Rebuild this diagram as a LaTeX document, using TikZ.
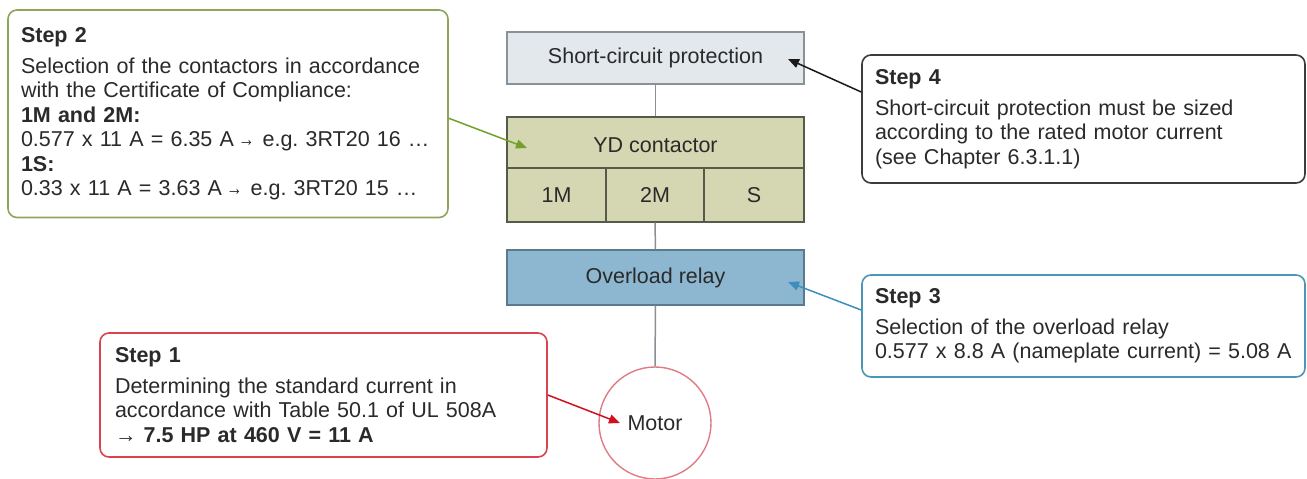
\documentclass[tikz,border=0pt]{standalone}
\usepackage{fontspec}
\usepackage{graphicx}
\setmainfont{Liberation Sans}
\usetikzlibrary{arrows.meta}
\frenchspacing
\newcommand{\smallarr}{\hspace{4.5pt}\scalebox{0.75}[1]{→}\hspace{8pt}}
\definecolor{txt}{HTML}{2A2A2A}
\definecolor{sgreen}{HTML}{8FA55C}
\definecolor{agreen}{HTML}{72A02A}
\definecolor{scpfill}{HTML}{E3E8ED}
\definecolor{scpdraw}{HTML}{8A9299}
\definecolor{ydfill}{HTML}{D4D7B1}
\definecolor{yddraw}{HTML}{555A4A}
\definecolor{olfill}{HTML}{8DB6D1}
\definecolor{oldraw}{HTML}{5A7A90}
\definecolor{sdark}{HTML}{3C3C3C}
\definecolor{adark}{HTML}{1A1A1A}
\definecolor{sblue}{HTML}{4D95B5}
\definecolor{ablue}{HTML}{3D8DBD}
\definecolor{sred}{HTML}{D8434F}
\definecolor{ared}{HTML}{D0101E}
\definecolor{mred}{HTML}{E07A85}
\definecolor{linkgray}{HTML}{8A8F94}
\begin{document}
\begin{tikzpicture}[x=1pt,y=-1pt,
  font=\fontsize{21.5}{24.5}\selectfont\frenchspacing, text=txt,
  stepbox/.style={draw, line width=1.6pt, rounded corners=9pt, fill=white,
    align=left, inner xsep=13pt, inner ysep=0pt},
  block/.style={draw, line width=1.2pt, inner sep=0pt},
  arr/.style={line width=1.5pt, -{Triangle[length=11pt,width=9pt]}},
  link/.style={draw=linkgray, line width=1.5pt}]
\useasboundingbox (0,0) rectangle (1307,479);

% central column
\node[block, draw=scpdraw, fill=scpfill, minimum width=297pt, minimum height=52pt]
  (scp) at (655.5,58) {Short-circuit protection};
\node[block, draw=yddraw, fill=ydfill, minimum width=297pt, minimum height=51pt]
  (yd) at (655.5,142.5) {};
\node at (655.5,145) (ydt) {YD contactor};
\node[block, draw=yddraw, fill=ydfill, minimum width=99pt, minimum height=54pt]
  (m1) at (556.5,195) {1M};
\node[block, draw=yddraw, fill=ydfill, minimum width=98pt, minimum height=54pt]
  (m2) at (655,195) {2M};
\node[block, draw=yddraw, fill=ydfill, minimum width=100pt, minimum height=54pt]
  (ms) at (754,195) {S};
\node[block, draw=oldraw, fill=olfill, minimum width=297pt, minimum height=55pt]
  (ol) at (655.5,277.5) {Overload relay};
\node[circle, draw=mred, line width=1.4pt, minimum size=112pt, inner sep=0pt]
  (motor) at (655,423) {Motor};

\draw[link] (scp.south) -- (yd.north);
\draw[link] (m2.south) -- (ol.north);
\draw[link] (ol.south) -- (motor.north);

% step boxes
\node[stepbox, draw=sgreen, text width=414pt, minimum height=207.5pt]
  (s2) at (228,113.75) {\textbf{Step 2}\\[6pt]
  \mbox{Selection of the contactors in accordance}\\
  \mbox{with the Certificate of Compliance:}\\
  \textbf{1M and 2M:}\\
  \mbox{0.577 x 11 A = 6.35 A\smallarr e.g. 3RT20 16 …}\\
  \textbf{1S:}\\
  \mbox{0.33 x 11 A = 3.63 A\smallarr e.g. 3RT20 15 …}};
\node[stepbox, draw=sdark, text width=417pt, minimum height=128pt]
  (s4) at (1083.5,119) {\textbf{Step 4}\\[6pt]
  \mbox{Short-circuit protection must be sized}\\
  \mbox{according to the rated motor current}\\
  \mbox{(see Chapter 6.3.1.1)}};
\node[stepbox, draw=sblue, text width=417pt, minimum height=102pt]
  (s3) at (1083.5,326) {\textbf{Step 3}\\[6pt]
  \mbox{Selection of the overload relay}\\
  \mbox{0.577 x 8.8 A (nameplate current) = 5.08 A}};
\node[stepbox, draw=sred, inner xsep=15pt, text width=417pt, minimum height=124pt]
  (s1) at (323.5,395) {\textbf{Step 1}\\[6pt]
  \mbox{Determining the standard current in}\\
  \mbox{accordance with Table 50.1 of UL 508A}\\
  \mbox{→ \textbf{7.5 HP at 460 V = 11 A}}};

% arrow targets
\coordinate (t2) at (527,148);
\coordinate (t4) at (788,59);
\coordinate (t3) at (788,282);
\coordinate (t1) at (620,423);

\draw[arr, draw=agreen, fill=agreen] ([yshift=-4.5pt]s2.east) -- (t2);
\draw[arr, draw=adark, fill=adark] ([yshift=27pt]s4.west) -- (t4);
\draw[arr, draw=ablue, fill=ablue] ([yshift=16pt]s3.west) -- (t3);
\draw[arr, draw=ared, fill=ared] (s1.east) -- (t1);
\end{tikzpicture}
\end{document}
